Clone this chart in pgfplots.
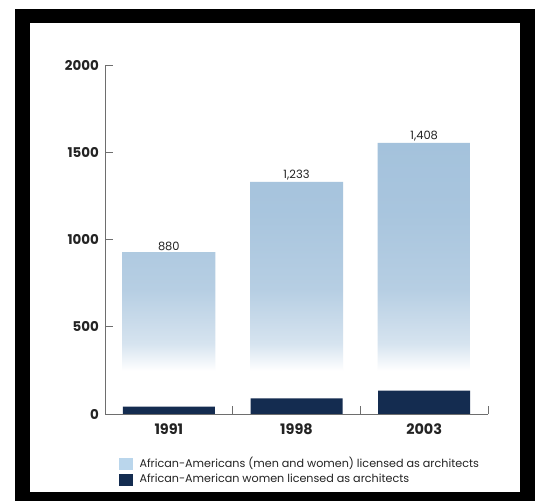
\documentclass[border=0pt]{standalone}
\usepackage{fontspec}
\setmainfont{Poppins}
\usepackage{pgfplots}
\pgfplotsset{compat=1.18}

\definecolor{barblue}{RGB}{164,194,220}
\definecolor{legblue}{RGB}{186,214,236}
\definecolor{navy}{RGB}{20,44,80}
\definecolor{axisgray}{RGB}{110,110,110}
\definecolor{txt}{RGB}{35,35,35}

% bar fades to white towards the bottom (path covers 25bp..75bp)
\pgfdeclareverticalshading{barfade}{100bp}{color(0bp)=(white); color(25bp)=(white); color(33bp)=(white); color(38bp)=(barblue!45); color(48bp)=(barblue!80); color(62bp)=(barblue!95); color(75bp)=(barblue); color(100bp)=(barblue)}

\begin{document}
\begin{tikzpicture}
\useasboundingbox (0bp,0bp) rectangle (539bp,501bp);
\fill[white] (0bp,0bp) rectangle (539bp,501bp);
\begin{axis}[
    at={(105bp,87bp)}, anchor=south west,
    scale only axis, width=383bp, height=349bp,
    xmin=-0.5, xmax=2.5,
    ymin=0, ymax=2000,
    axis x line*=bottom, axis y line*=left,
    axis line style={axisgray, line width=0.6pt},
    tick align=inside,
    major tick length=7.5bp,
    tick style={axisgray, line width=0.6pt},
    xtick={0.5,1.5,2.5}, xticklabels={},
    extra x ticks={0,1,2},
    extra x tick labels={1991,1998,2003},
    extra x tick style={major tick length=0pt},
    ytick={0,500,1000,1500,2000},
    yticklabels={0,500,1000,1500,2000},
    yticklabel style={font=\bfseries\fontsize{13.5}{13.5}\selectfont, text=txt, xshift=-2.5bp},
    xticklabel style={font=\bfseries\fontsize{14.5}{14.5}\selectfont, text=txt, yshift=-6bp},
    legend style={draw=none, fill=none, at={(axis description cs:0.035,-0.118)},
        anchor=north west, font=\fontsize{11.2}{12.5}\selectfont, text=txt,
        row sep=1bp, inner sep=0pt, nodes={inner sep=2bp},
        /tikz/every odd column/.append style={column sep=5.5bp}},
    legend cell align=left,
]
\addplot[ybar, bar width=93bp, bar shift=0pt, draw=none, shade, shading=barfade,
    nodes near coords, point meta=explicit symbolic,
    every node near coord/.append style={font=\fontsize{11.5}{11.5}\selectfont, text=txt, inner sep=1.5bp},
    forget plot]
    coordinates {(0,928) [880] (1,1330) [{1,233}] (2,1553) [{1,408}]};
\addplot[ybar, bar width=92bp, bar shift=0pt, draw=none, fill=navy, forget plot]
    coordinates {(0,42) (1,90) (2,134)};

\addlegendimage{legend image code/.code={\fill[legblue] (0bp,-5.5bp) rectangle (13bp,5.5bp);}}
\addlegendentry{African-Americans (men and women) licensed as architects}
\addlegendimage{legend image code/.code={\fill[navy] (0bp,-5.5bp) rectangle (13bp,5.5bp);}}
\addlegendentry{African-American women licensed as architects}
\end{axis}
\draw[line width=14.5bp] (22.5bp,2bp) rectangle (527.5bp,485bp);
\end{tikzpicture}
\end{document}
